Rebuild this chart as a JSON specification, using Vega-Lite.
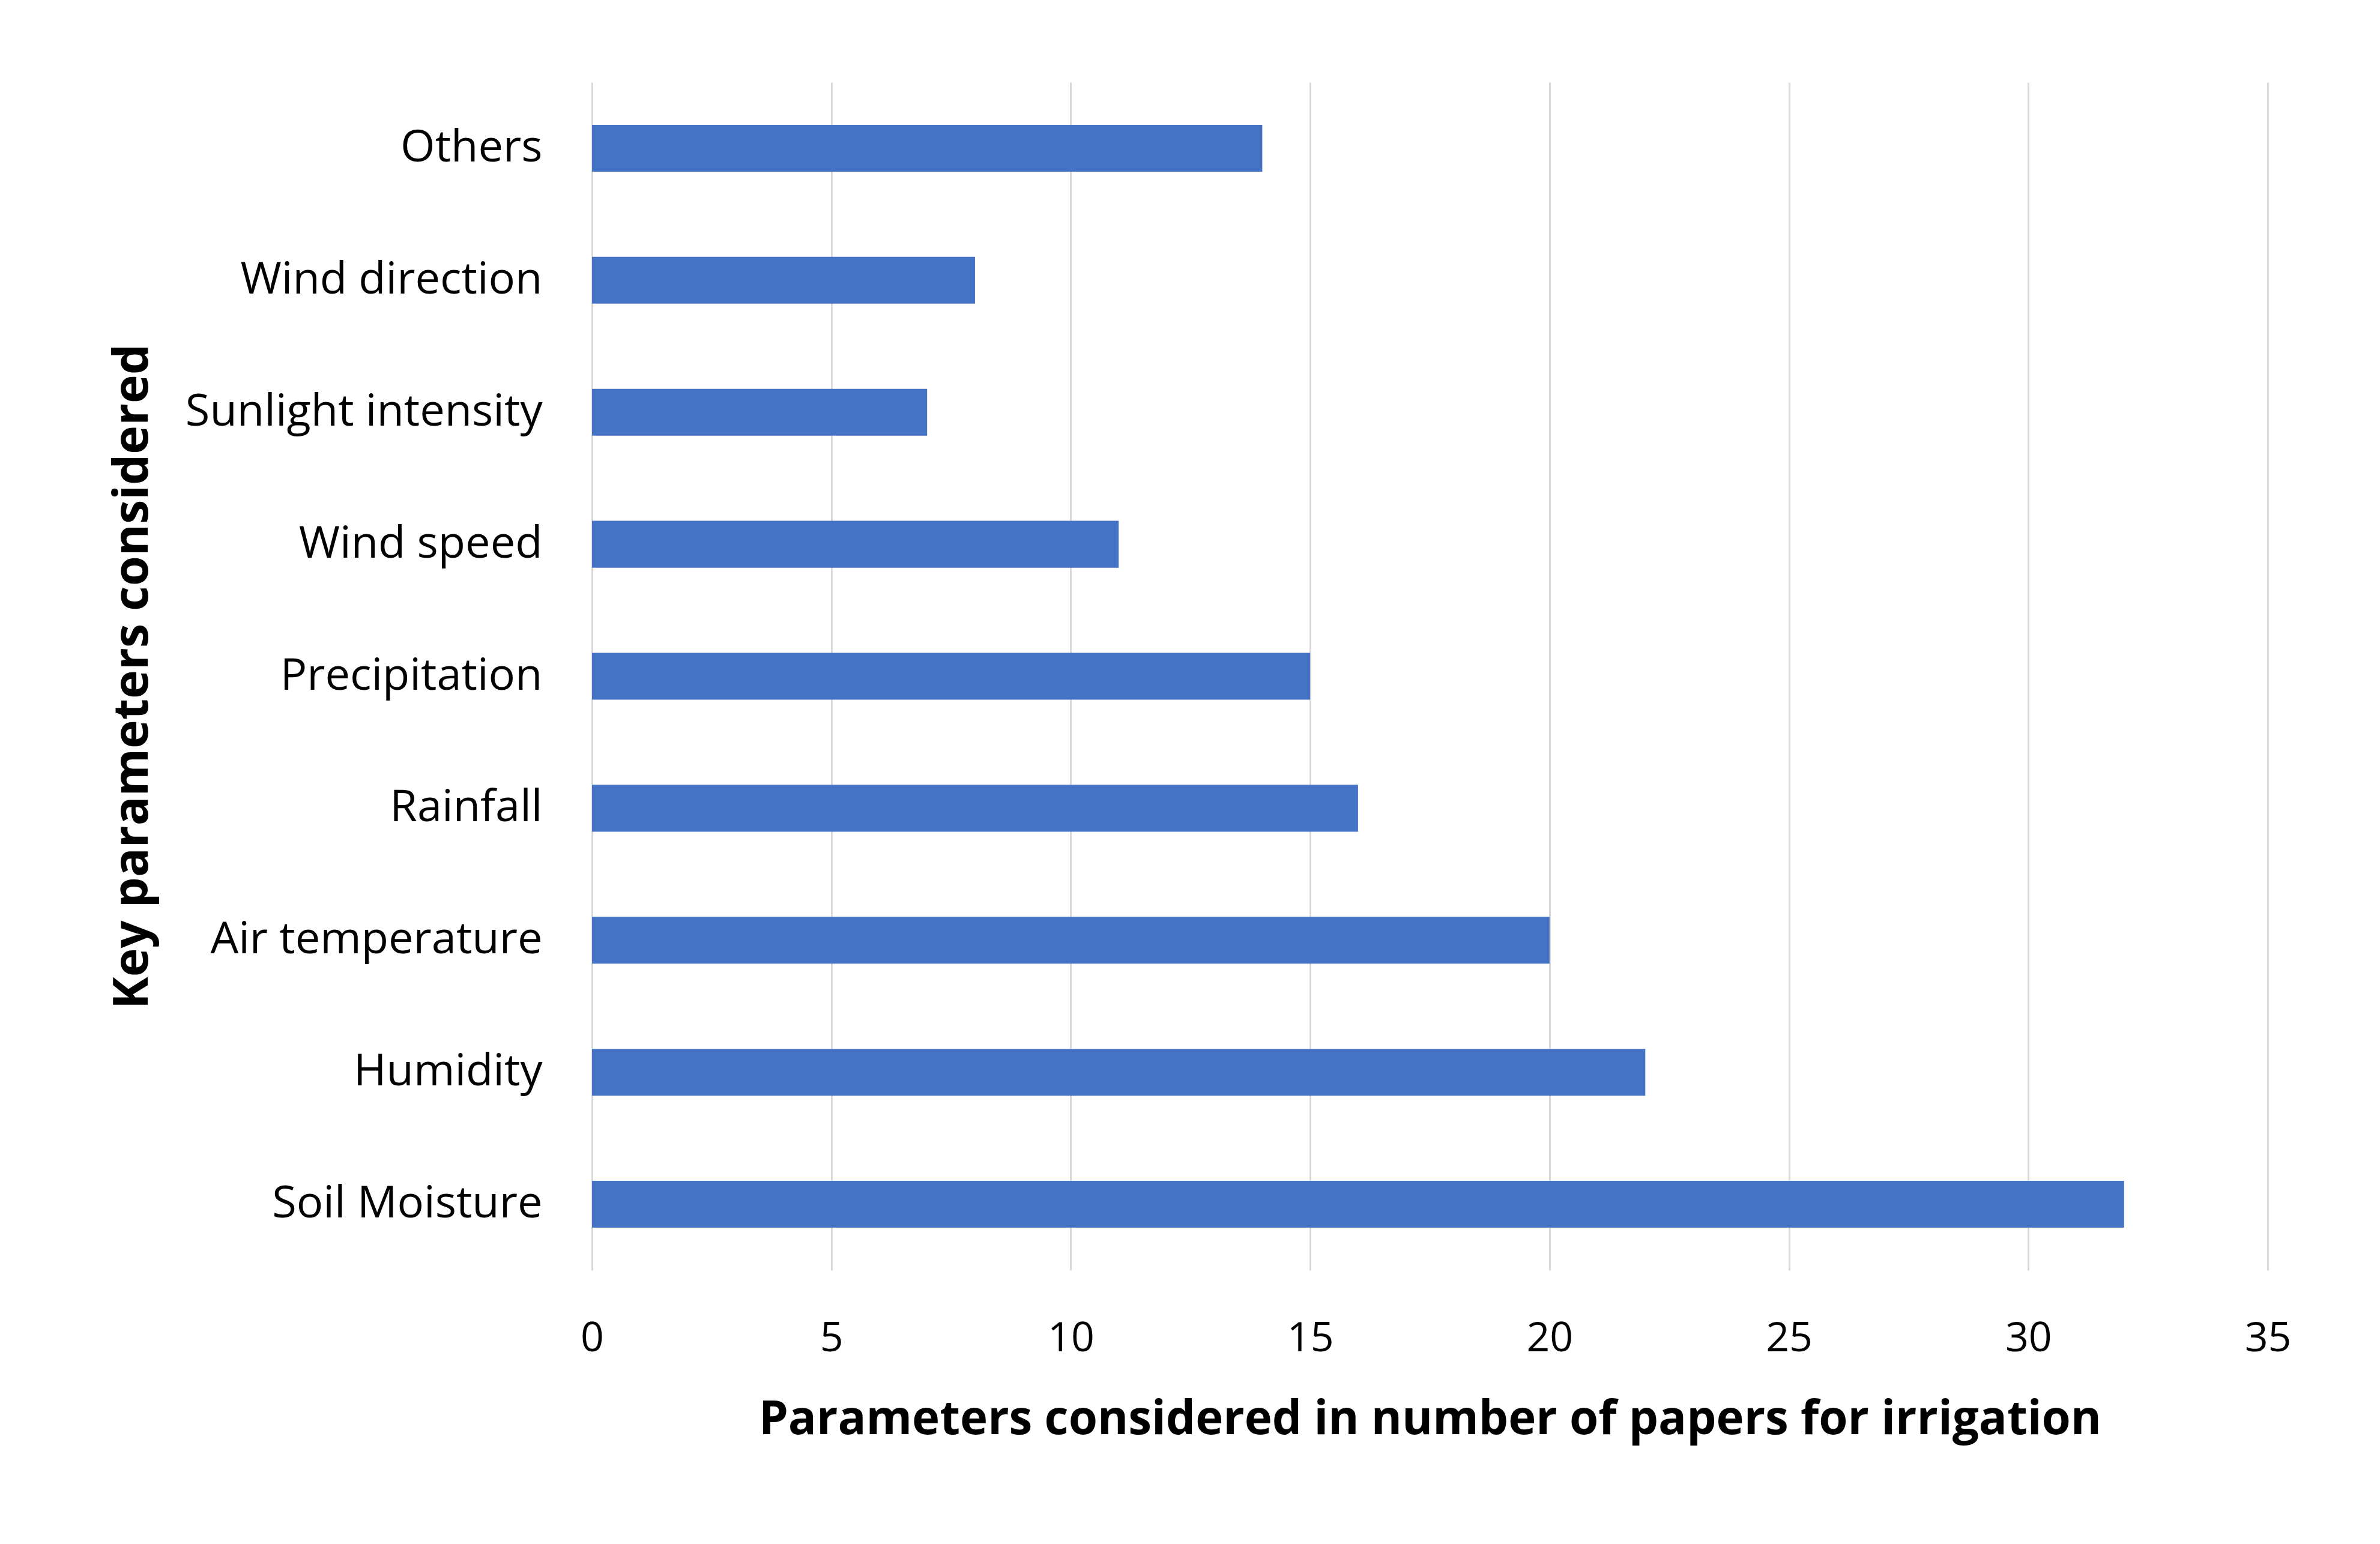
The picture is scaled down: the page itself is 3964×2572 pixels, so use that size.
{
  "$schema": "https://vega.github.io/schema/vega-lite/v6.json",
  "autosize": "none",
  "width": 2791,
  "height": 1979,
  "padding": {"left": 986, "top": 137, "right": 187, "bottom": 456},
  "background": "white",
  "config": {"view": {"stroke": null}, "font": "Open Sans"},
  "data": {
    "values": [
      {"param": "Others", "count": 14},
      {"param": "Wind direction", "count": 8},
      {"param": "Sunlight intensity", "count": 7},
      {"param": "Wind speed", "count": 11},
      {"param": "Precipitation", "count": 15},
      {"param": "Rainfall", "count": 16},
      {"param": "Air temperature", "count": 20},
      {"param": "Humidity", "count": 22},
      {"param": "Soil Moisture\u00a0", "count": 32}
    ]
  },
  "mark": {"type": "bar", "color": "#4472C4"},
  "encoding": {
    "y": {
      "field": "param",
      "type": "nominal",
      "sort": null,
      "scale": {"paddingInner": 0.645, "paddingOuter": 0.3225},
      "axis": {
        "title": "Key parameters considered",
        "titleFont": "Open Sans",
        "titleFontSize": 81,
        "titleFontWeight": "bold",
        "titleColor": "black",
        "titlePadding": 524,
        "labelFont": "Open Sans",
        "labelFontSize": 74,
        "labelColor": "black",
        "labelPadding": 83,
        "labelLimit": 2000,
        "ticks": false,
        "domain": false,
        "grid": false
      }
    },
    "x": {
      "field": "count",
      "type": "quantitative",
      "scale": {"domain": [0, 35], "nice": false},
      "axis": {
        "title": "Parameters considered in number of papers for irrigation",
        "titleFont": "Open Sans",
        "titleFontSize": 78,
        "titleFontWeight": "bold",
        "titleColor": "black",
        "titlePadding": 62,
        "values": [0, 5, 10, 15, 20, 25, 30, 35],
        "labelFont": "Open Sans",
        "labelFontSize": 68,
        "labelColor": "black",
        "labelPadding": 80,
        "labelFlush": false,
        "ticks": false,
        "domain": false,
        "grid": true,
        "gridColor": "#d9d9d9",
        "gridWidth": 3
      }
    }
  }
}
